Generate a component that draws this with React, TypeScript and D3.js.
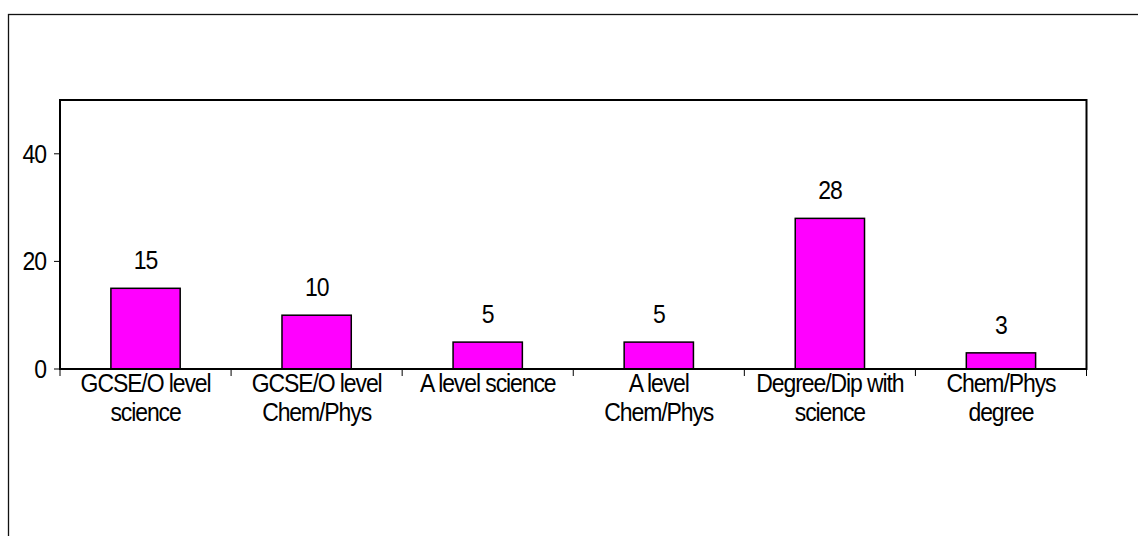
import React from "react";
import * as d3 from "d3";

const categories: string[][] = [
  ["GCSE/O level", "science"],
  ["GCSE/O level", "Chem/Phys"],
  ["A level science"],
  ["A level", "Chem/Phys"],
  ["Degree/Dip with", "science"],
  ["Chem/Phys", "degree"],
];
const values: number[] = [15, 10, 5, 5, 28, 3];
const yTicks: number[] = [0, 20, 40];

const W = 1138;
const H = 536;
const left = 60;
const right = 1086.5;
const top = 100;
const bottom = 369;
const font = "'Liberation Sans', Arial, sans-serif";
const FS = 25;
const SX = 0.92;
const LS = -1.2;

function Label(props: { x: number; y: number; anchor: string; children: React.ReactNode }) {
  return (
    <text
      transform={`translate(${props.x},${props.y}) scale(${SX},1)`}
      textAnchor={props.anchor}
      fontFamily={font}
      fontSize={FS}
      letterSpacing={LS}
      fill="#000"
    >
      {props.children}
    </text>
  );
}

export default function App() {
  const keys = categories.map((_, i) => String(i));
  const x = d3
    .scaleBand<string>()
    .domain(keys)
    .range([left, right])
    .paddingInner(0.595)
    .paddingOuter(0.2975);
  const step = x.step();
  const y = d3.scaleLinear().domain([0, 50]).range([bottom, top]);

  return (
    <svg
      width={W}
      height={H}
      style={{ position: "absolute", left: 0, top: 0, background: "#fff" }}
    >
      <rect x={0} y={0} width={W} height={H} fill="#fff" />
      <rect x={8.5} y={14.5} width={1300} height={700} fill="none" stroke="#111" strokeWidth={1.3} />
      <rect x={left} y={top} width={right - left} height={bottom - top} fill="#fff" stroke="#000" strokeWidth={2} />
      {values.map((v, i) => (
        <g key={i}>
          <rect
            x={x(keys[i])!}
            y={y(v)}
            width={x.bandwidth()}
            height={y(0) - y(v)}
            fill="#ff00ff"
            stroke="#000"
            strokeWidth={1.5}
          />
          <Label x={x(keys[i])! + x.bandwidth() / 2} y={y(v) - 19} anchor="middle">
            {v}
          </Label>
        </g>
      ))}
      <line x1={left} x2={right} y1={bottom} y2={bottom} stroke="#000" strokeWidth={2} />
      {d3.range(categories.length + 1).map((k) => (
        <line
          key={"xt" + k}
          x1={left + k * step}
          x2={left + k * step}
          y1={bottom}
          y2={bottom + 7}
          stroke="#000"
          strokeWidth={1}
        />
      ))}
      {yTicks.map((t) => (
        <g key={"yt" + t}>
          <line x1={left - 6} x2={left} y1={y(t)} y2={y(t)} stroke="#000" strokeWidth={1} />
          <Label x={left - 14} y={y(t) + 9} anchor="end">
            {t}
          </Label>
        </g>
      ))}
      {categories.map((lines, i) => (
        <g key={"c" + i}>
          {lines.map((l, j) => (
            <Label key={j} x={left + (i + 0.5) * step} y={392 + j * 28.5} anchor="middle">
              {l}
            </Label>
          ))}
        </g>
      ))}
    </svg>
  );
}
